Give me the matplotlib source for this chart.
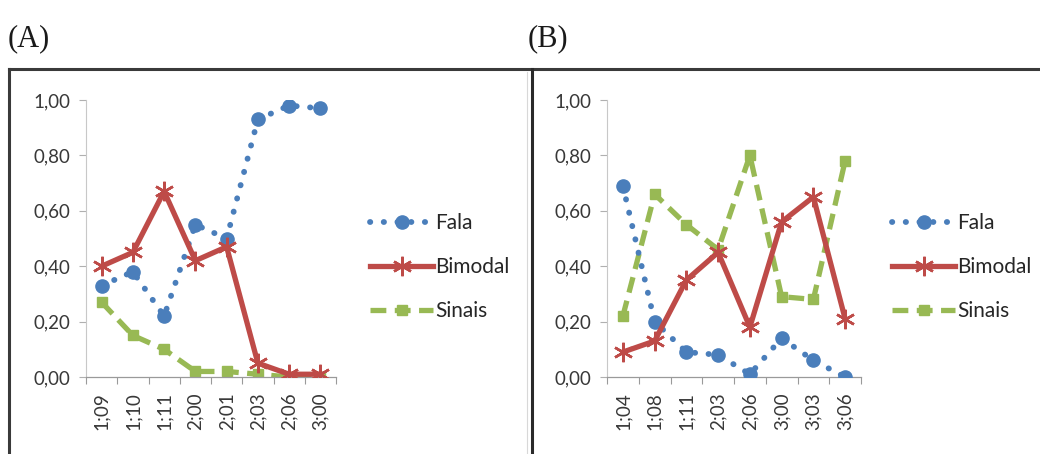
import matplotlib
matplotlib.use("Agg")
import matplotlib.pyplot as plt
from matplotlib.lines import Line2D
import numpy as np

plt.rcParams['font.family'] = ['Lato', 'DejaVu Sans']

# Data
cats_a = ["1;09", "1;10", "1;11", "2;00", "2;01", "2;03", "2;06", "3;00"]
fala_a = [0.33, 0.38, 0.22, 0.55, 0.50, 0.93, 0.98, 0.97]
bimodal_a = [0.40, 0.45, 0.67, 0.42, 0.47, 0.05, 0.01, 0.01]
sinais_a = [0.27, 0.15, 0.10, 0.02, 0.02, 0.01, 0.00, 0.00]

cats_b = ["1;04", "1;08", "1;11", "2;03", "2;06", "3;00", "3;03", "3;06"]
fala_b = [0.69, 0.20, 0.09, 0.08, 0.01, 0.14, 0.06, 0.00]
bimodal_b = [0.09, 0.13, 0.35, 0.45, 0.18, 0.56, 0.65, 0.21]
sinais_b = [0.22, 0.66, 0.55, 0.46, 0.80, 0.29, 0.28, 0.78]

series_names = ["Fala", "Bimodal", "Sinais"]
yticks = [0.0, 0.2, 0.4, 0.6, 0.8, 1.0]
panel_labels = ["(A)", "(B)"]

BLUE = "#4a7ebb"
RED = "#be4b48"
GREEN = "#98b954"

W, H = 1040, 454
fig = plt.figure(figsize=(W / 100, H / 100), dpi=100)

def px(x0, y0, x1, y1):
    return [x0 / W, 1 - y1 / H, (x1 - x0) / W, (y1 - y0) / H]

star = (6, 2, 0)

def draw_panel(ax, cats, fala, bim, sin):
    x = np.arange(len(cats))
    ax.plot(x, fala, color=BLUE, lw=4.2, ls=(0, (0.05, 2.3)), dash_capstyle='round',
            marker='o', ms=9.5, mfc=BLUE, mec=BLUE, label=series_names[0], zorder=3)
    ax.plot(x, bim, color=RED, lw=3.8, ls='-', marker=star, ms=14, mew=1.8,
            mec=RED, label=series_names[1], zorder=4)
    ax.plot(x, sin, color=GREEN, lw=3.8, ls=(0, (3.0, 1.6)), marker='s', ms=7.5,
            mfc=GREEN, mec=GREEN, label=series_names[2], zorder=2)
    ax.set_xlim(-0.5, len(cats) - 0.5)
    ax.set_ylim(0, 1.0)
    ax.set_yticks(yticks)
    ax.set_yticklabels([f"{v:.2f}".replace(".", ",") for v in yticks],
                       fontsize=13.5, color="#383838")
    ax.set_xticks(x)
    ax.set_xticklabels(cats, rotation=90, fontsize=13.5, color="#383838")
    ax.set_xticks(np.arange(-0.5, len(cats), 1.0), minor=True)
    ax.tick_params(axis='x', which='major', length=0, pad=11)
    ax.tick_params(axis='x', which='minor', length=5, color="#9a9a9a", width=0.8)
    ax.tick_params(axis='y', length=5, color="#b0b0b0", width=0.8, pad=6)
    for s in ['top', 'right']:
        ax.spines[s].set_visible(False)
    ax.spines['left'].set_color("#c8c8c8")
    ax.spines['bottom'].set_color("#9a9a9a")
    ax.spines['left'].set_linewidth(0.8)
    ax.spines['bottom'].set_linewidth(0.9)
    ax.set_facecolor('none')

axA = fig.add_axes(px(86, 100, 336, 377))
draw_panel(axA, cats_a, fala_a, bimodal_a, sinais_a)
axB = fig.add_axes(px(607, 100, 861, 377))
draw_panel(axB, cats_b, fala_b, bimodal_b, sinais_b)

for ax, lx in [(axA, 362 / W), (axB, 884 / W)]:
    leg = ax.legend(loc='center left', bbox_to_anchor=(lx, 1 - 267 / H),
                    bbox_transform=fig.transFigure, frameon=False,
                    fontsize=15, handlelength=3.0, handletextpad=0.1,
                    labelspacing=1.15, borderaxespad=0)
    for t in leg.get_texts():
        t.set_color("#262626")

# Frame lines
fig.add_artist(Line2D([9 / W, 9 / W], [0, 1 - 69 / H], color="#3a3a3a", lw=2.2,
                      transform=fig.transFigure))
fig.add_artist(Line2D([9 / W, 1], [1 - 69 / H, 1 - 69 / H], color="#3a3a3a", lw=2.2,
                      transform=fig.transFigure))
fig.add_artist(Line2D([532 / W, 532 / W], [0, 1 - 69 / H], color="#2a2a2a", lw=2.2,
                      transform=fig.transFigure))
fig.add_artist(Line2D([527 / W, 527 / W], [0, 1 - 72 / H], color="#d8d8d8", lw=0.8,
                      transform=fig.transFigure))

# Panel labels
fig.text(8 / W, 1 - 39 / H, panel_labels[0], fontsize=22, family='Liberation Serif',
         va='center', ha='left', color="#1a1a1a")
fig.text(528 / W, 1 - 39 / H, panel_labels[1], fontsize=22, family='Liberation Serif',
         va='center', ha='left', color="#1a1a1a")

fig.savefig("out.png", dpi=100)
